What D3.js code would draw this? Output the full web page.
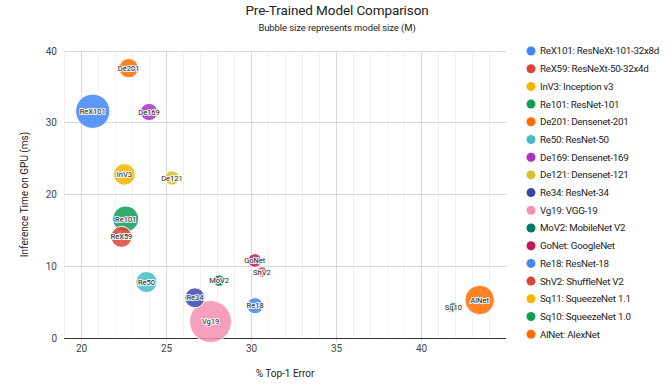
<!DOCTYPE html>
<html><head><meta charset="utf-8">
<script src="https://cdn.jsdelivr.net/npm/d3@7"></script>
<style>
body{margin:0;background:#fff;font-family:Roboto,"Noto Sans",sans-serif;}
svg{display:block;}
</style></head>
<body><svg id="c" width="672" height="389"></svg>
<script>
const codes = ["ReX101","ReX59","InV3","Re101","De201","Re50","De169","De121","Re34","Vg19","MoV2","GoNet","Re18","ShV2","Sq11","Sq10","AlNet"];
const names = ["ResNeXt-101-32x8d","ResNeXt-50-32x4d","Inception v3","ResNet-101","Densenet-201","ResNet-50","Densenet-169","Densenet-121","ResNet-34","VGG-19","MobileNet V2","GoogleNet","ResNet-18","ShuffleNet V2","SqueezeNet 1.1","SqueezeNet 1.0","AlexNet"];
const top1Error = [20.69,22.38,22.55,22.63,22.80,23.85,24.00,25.35,26.70,27.62,28.12,30.22,30.24,30.64,41.81,41.90,43.45];
const inferenceMs = [31.6,14.1,22.8,16.6,37.6,7.8,31.5,22.3,5.6,2.3,8.0,10.8,4.5,9.2,4.1,4.3,5.3];
const modelSizeM = [88.8,25.0,27.2,44.5,20.0,25.6,14.1,8.0,21.8,143.7,3.5,6.6,11.7,2.3,1.2,1.2,61.1];
const colors = ["#4285F4","#DB4437","#F4B400","#0F9D58","#FF6D00","#46BDC6","#AB30C4","#D3C42E","#3949AB","#F48FB1","#00796B","#C2185B","#4285F4","#DB4437","#F4B400","#0F9D58","#FF6D00"];
const xTicks = [20,25,30,35,40];
const yTicks = [0,10,20,30,40];

const svg = d3.select("#c");
const L=64,R=506,T=51,B=338;
const x = d3.scaleLinear().domain([19,45]).range([L,R]);
const y = d3.scaleLinear().domain([0,40]).range([B,T]);
const r = d3.scalePow().exponent(0.5).domain([0,143.7]).range([3,21]);

// minor vertical gridlines
const minor = d3.range(19,46,1).filter(v=>v%5!==0);
svg.append("g").selectAll("line").data(minor).join("line")
  .attr("x1",d=>x(d)).attr("x2",d=>x(d)).attr("y1",T).attr("y2",B)
  .attr("stroke","#f1f1f1").attr("stroke-width",1).attr("shape-rendering","crispEdges");
// major gridlines
svg.append("g").selectAll("line").data(xTicks).join("line")
  .attr("x1",d=>x(d)).attr("x2",d=>x(d)).attr("y1",T).attr("y2",B+4)
  .attr("stroke","#d9d9d9").attr("shape-rendering","crispEdges");
svg.append("g").selectAll("line").data(yTicks.filter(d=>d>0)).join("line")
  .attr("x1",L).attr("x2",R).attr("y1",d=>y(d)).attr("y2",d=>y(d))
  .attr("stroke","#d9d9d9").attr("shape-rendering","crispEdges");
// baseline
svg.append("line").attr("x1",L).attr("x2",R).attr("y1",y(0)).attr("y2",y(0))
  .attr("stroke","#333").attr("shape-rendering","crispEdges");

// axes (labels only)
const xAxis = svg.append("g").attr("transform",`translate(0,${B})`)
  .call(d3.axisBottom(x).tickValues(xTicks).tickSize(0).tickPadding(7));
const yAxis = svg.append("g").attr("transform",`translate(${L},0)`)
  .call(d3.axisLeft(y).tickValues(yTicks).tickSize(0).tickPadding(7));
[xAxis,yAxis].forEach(a=>{a.select(".domain").remove();
  a.selectAll("text").attr("font-family","Roboto,sans-serif").attr("font-size",10).attr("fill","#444");});

// bubbles sorted by size desc (smaller on top)
const data = codes.map((c,i)=>({c,i,x:top1Error[i],y:inferenceMs[i],s:modelSizeM[i],col:colors[i]}));
const sorted = data.slice().sort((a,b)=>b.s-a.s || a.i-b.i);
const gb = svg.append("g");
sorted.forEach(d=>{
  gb.append("circle").attr("cx",x(d.x)).attr("cy",y(d.y)).attr("r",r(d.s))
    .attr("fill",d.col).attr("fill-opacity",0.85).attr("stroke","#fff").attr("stroke-width",1);
});
// labels: a label fully covered by a later-drawn one is hidden (as in the reference)
sorted.forEach((d,k)=>{
  const px=x(d.x), py=y(d.y);
  const covered = sorted.slice(k+1).some(o=>Math.abs(x(o.x)-px)<8 && Math.abs(y(o.y)-py)<6);
  if(covered) return;
  gb.append("text").attr("x",px).attr("y",py).attr("dy","0.35em")
    .attr("text-anchor","middle").attr("font-size",7.5).attr("font-family","Roboto,sans-serif")
    .attr("fill","#222").attr("stroke","#fff").attr("stroke-width",2).attr("stroke-opacity",0.9)
    .attr("paint-order","stroke").text(d.c);
});

// titles
svg.append("text").attr("x",337).attr("y",15).attr("text-anchor","middle")
  .attr("font-size",13.5).attr("letter-spacing",-0.1).attr("fill","#222").text("Pre-Trained Model Comparison");
svg.append("text").attr("x",337).attr("y",31).attr("text-anchor","middle")
  .attr("font-size",9.5).attr("letter-spacing",-0.1).attr("fill","#222").text("Bubble size represents model size (M)");
svg.append("text").attr("x",(L+R)/2).attr("y",377).attr("text-anchor","middle")
  .attr("font-size",10).attr("fill","#222").text("% Top-1 Error");
svg.append("text").attr("transform",`translate(28,${(T+B)/2}) rotate(-90)`).attr("text-anchor","middle")
  .attr("font-size",10).attr("fill","#222").text("Inference Time on GPU (ms)");

// legend
const lg = svg.append("g");
data.forEach((d,i)=>{
  const yy = 51 + i*17.7;
  lg.append("circle").attr("cx",531).attr("cy",yy).attr("r",4.5).attr("fill",d.col);
  lg.append("text").attr("x",540).attr("y",yy).attr("dy","0.35em")
    .attr("font-size",9.8).attr("letter-spacing",-0.25).attr("fill","#222").text(d.c+": "+names[i]);
});
</script></body></html>
